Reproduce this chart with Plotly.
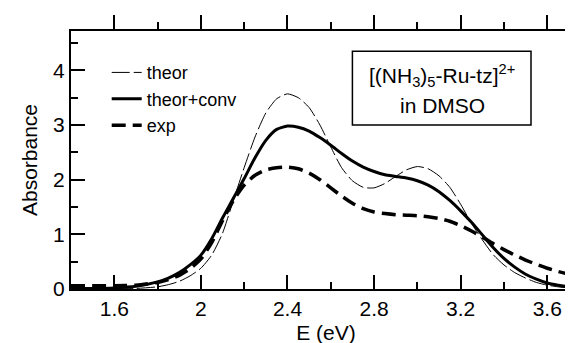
import plotly.graph_objects as go

# ---- data ----
energy = [1.40, 1.50, 1.60, 1.70, 1.80, 1.85, 1.90, 1.95, 2.00, 2.05, 2.10, 2.15,
          2.20, 2.25, 2.30, 2.35, 2.40, 2.45, 2.50, 2.55, 2.60, 2.65, 2.70, 2.75,
          2.80, 2.85, 2.90, 2.95, 3.00, 3.05, 3.10, 3.15, 3.20, 3.25, 3.30, 3.35,
          3.40, 3.45, 3.50, 3.55, 3.60, 3.65, 3.70, 3.756]

theor = [0.00, 0.00, 0.00, 0.01, 0.04, 0.08, 0.14, 0.24, 0.38, 0.62, 1.02, 1.62,
         2.22, 2.78, 3.22, 3.48, 3.57, 3.50, 3.32, 3.00, 2.60, 2.22, 1.98, 1.86,
         1.85, 1.93, 2.06, 2.18, 2.24, 2.20, 2.07, 1.86, 1.55, 1.20, 0.90, 0.63,
         0.44, 0.30, 0.20, 0.12, 0.07, 0.04, 0.02, 0.01]

theor_conv = [0.01, 0.01, 0.02, 0.05, 0.13, 0.20, 0.30, 0.44, 0.62, 0.92, 1.30, 1.66,
              2.02, 2.40, 2.72, 2.92, 2.98, 2.96, 2.89, 2.77, 2.63, 2.48, 2.34, 2.23,
              2.15, 2.09, 2.06, 2.03, 1.98, 1.90, 1.78, 1.62, 1.43, 1.22, 0.99, 0.76,
              0.56, 0.40, 0.27, 0.18, 0.11, 0.07, 0.04, 0.02]

exp_abs = [0.06, 0.06, 0.06, 0.07, 0.12, 0.17, 0.25, 0.37, 0.55, 0.85, 1.25, 1.62,
           1.90, 2.08, 2.18, 2.22, 2.23, 2.20, 2.12, 2.00, 1.85, 1.70, 1.57, 1.47,
           1.41, 1.38, 1.36, 1.35, 1.34, 1.32, 1.29, 1.24, 1.16, 1.06, 0.95, 0.83,
           0.72, 0.62, 0.53, 0.45, 0.38, 0.32, 0.27, 0.22]

x_ticks = [1.6, 2.0, 2.4, 2.8, 3.2, 3.6]
x_tick_labels = ["1.6", "2", "2.4", "2.8", "3.2", "3.6"]
x_minor = [1.8, 2.2, 2.6, 3.0, 3.4]
y_ticks = [0, 1, 2, 3, 4]
y_tick_labels = ["0", "1", "2", "3", "4"]
y_minor = [0.5, 1.5, 2.5, 3.5, 4.5]

x_range = [1.4, 3.756]
y_range = [0, 4.72]

FONT = "Liberation Sans, Arial, Helvetica, sans-serif"

fig = go.Figure()
fig.add_trace(go.Scatter(x=energy, y=theor, name="theor", mode="lines",
                         line=dict(color="black", width=1, dash="18px,4px",
                                   shape="spline", smoothing=0.6)))
fig.add_trace(go.Scatter(x=energy, y=theor_conv, name="theor+conv", mode="lines",
                         line=dict(color="black", width=3, shape="spline", smoothing=0.6)))
fig.add_trace(go.Scatter(x=energy, y=exp_abs, name="exp", mode="lines",
                         line=dict(color="black", width=3.5, dash="14px,7px",
                                   shape="spline", smoothing=0.6)))
# helper trace so the mirrored frame axes are drawn
fig.add_trace(go.Scatter(x=[None], y=[None], xaxis="x2", yaxis="y2",
                         showlegend=False, hoverinfo="skip", mode="lines"))

axis_common = dict(showgrid=False, zeroline=False, tickcolor="black",
                   tickwidth=1.5, linecolor="black", linewidth=2)

fig.update_layout(
    width=573, height=343,
    margin=dict(l=63, r=0, t=23, b=62),
    paper_bgcolor="white", plot_bgcolor="white",
    font=dict(family=FONT, color="black", size=21),
    xaxis=dict(range=x_range, tickvals=x_ticks, ticktext=x_tick_labels,
               ticks="inside", ticklen=14, showline=True,
               minor=dict(tickvals=x_minor, ticks="inside", ticklen=7,
                          tickcolor="black", tickwidth=1.5),
               tickfont=dict(size=21),
               title=dict(text="E (eV)", font=dict(size=21), standoff=6),
               **axis_common),
    yaxis=dict(range=y_range, tickvals=y_ticks, ticktext=y_tick_labels,
               ticks="inside", ticklen=14, showline=True,
               minor=dict(tickvals=y_minor, ticks="inside", ticklen=7,
                          tickcolor="black", tickwidth=1.5),
               tickfont=dict(size=21),
               title=dict(text="Absorbance", font=dict(size=21), standoff=10),
               **axis_common),
    xaxis2=dict(range=x_range, overlaying="x", side="top", anchor="y2",
                tickvals=x_ticks, ticks="outside", ticklen=14, showline=True,
                showticklabels=False,
                minor=dict(tickvals=x_minor, ticks="outside", ticklen=7,
                           tickcolor="black", tickwidth=1.5),
                **axis_common),
    yaxis2=dict(range=y_range, overlaying="y", side="right", anchor="x2",
                tickvals=y_ticks, ticks="inside", ticklen=8, showline=False,
                showticklabels=False,
                minor=dict(tickvals=y_minor, ticks="inside", ticklen=1,
                           tickcolor="black", tickwidth=1.5),
                **axis_common),
    legend=dict(x=0.07, y=0.91, xanchor="left", yanchor="top",
                font=dict(size=18, family=FONT, color="black"),
                bgcolor="rgba(0,0,0,0)", borderwidth=0),
    shapes=[dict(type="rect", xref="x", yref="y", x0=2.70, x1=3.525, y0=3.0, y1=4.35,
                 line=dict(color="black", width=1.5), fillcolor="rgba(0,0,0,0)")],
    annotations=[
        dict(x=3.115, y=3.91, xref="x", yref="y", showarrow=False,
             text="[(NH<sub>3</sub>)<sub>5</sub>-Ru-tz]<sup>2+</sup>",
             font=dict(size=21, family=FONT, color="black")),
        dict(x=3.115, y=3.36, xref="x", yref="y", showarrow=False,
             text="in DMSO", font=dict(size=21, family=FONT, color="black")),
    ],
)

fig.write_html("out.html")
